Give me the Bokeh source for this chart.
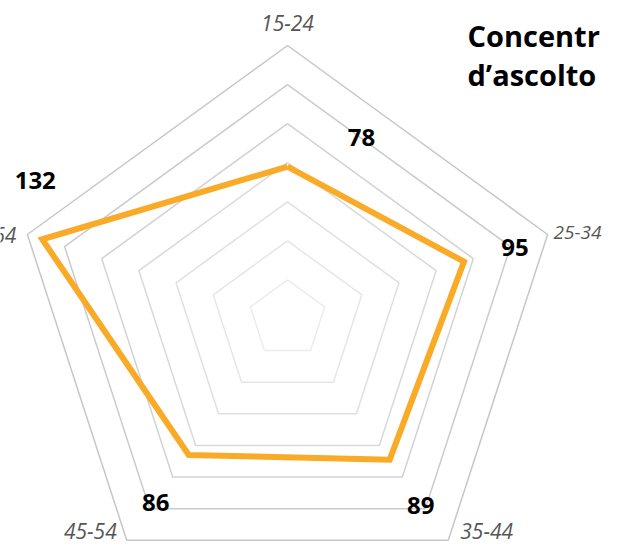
import numpy as np
from bokeh.plotting import figure
from bokeh.models import Range1d
from bokeh.core.properties import value
from bokeh.embed import file_html
from bokeh.resources import INLINE

# ---- data ----
categories = ["15-24", "25-34", "35-44", "45-54", "55-64"]
values = [78, 95, 89, 86, 132]
ring_levels = [20, 40, 60, 80, 100, 120, 140]
title_lines = ["Concentr", "d\u2019ascolto"]

# ---- layout / style ----
W, H = 603, 544
R_MAX = 140
PX = 273.5 / R_MAX         # pixels per value unit
CX, CY = 287.0, 318.5      # centre in canvas px (y down)

ring_colors = ["#ececec", "#e6e6e6", "#e0e0e0", "#d9d9d9", "#d2d2d2", "#cbcbcb", "#c6c6c6"]
line_color = "#f9ab28"
val_dx = [74, 51, 31, -33, -7]       # label offsets (px, y down)
val_dy = [-29, -14, 46, 48, -59]
cat_dx = [0, 6, 12, -10, -11]
cat_dy = [-23, -2, -9, -9, 1]
cat_size = ["21px", "19px", "21px", "21px", "21px"]
cat_align = ["center", "left", "left", "right", "right"]


def px2data(x, y):
    return (x - CX) / PX, (CY - y) / PX


p = figure(width=W, height=H, output_backend="svg", toolbar_location=None,
           x_range=Range1d(-CX / PX, (W - CX) / PX),
           y_range=Range1d(-(H - CY) / PX, CY / PX),
           x_axis_location=None, y_axis_location=None, min_border=0)
p.grid.visible = False
p.outline_line_color = None
p.background_fill_color = "white"
p.border_fill_color = "white"

theta = np.deg2rad(np.arange(len(categories)) * 360 / len(categories))
ux, uy = np.sin(theta), np.cos(theta)

# rings
xs = [list(lv * ux) + [lv * ux[0]] for lv in ring_levels]
ys = [list(lv * uy) + [lv * uy[0]] for lv in ring_levels]
p.multi_line(xs, ys, line_color=ring_colors, line_width=1.5)

# data polygon
v = np.array(values, dtype=float)
px_ = list(v * ux) + [v[0] * ux[0]]
py_ = list(v * uy) + [v[0] * uy[0]]
p.line(px_, py_, line_color=line_color, line_width=6, line_join="miter")

# value labels
lx = v * ux + np.array(val_dx) / PX
ly = v * uy - np.array(val_dy) / PX
p.text(x=list(lx), y=list(ly), text=[str(int(a)) for a in values],
       text_font=value("Open Sans"), text_font_style="bold", text_font_size="24px",
       text_color="black", text_align="center", text_baseline="middle")

# category labels
for i, c in enumerate(categories):
    x = R_MAX * ux[i] + cat_dx[i] / PX
    y = R_MAX * uy[i] - cat_dy[i] / PX
    p.text(x=[x], y=[y], text=[c], text_font=value("Open Sans"), text_font_style="italic",
           text_font_size=cat_size[i], text_color="#555555", text_align=cat_align[i],
           text_baseline="middle")

# title
pos = [px2data(467, b) for b in (35, 74)]
p.text(x=[q[0] for q in pos], y=[q[1] for q in pos], text=title_lines,
       text_font=value("Open Sans"), text_font_style="bold",
       text_font_size="29px", text_color="black", text_align="left",
       text_baseline="alphabetic")

open("out.html", "w").write(file_html(p, INLINE))
